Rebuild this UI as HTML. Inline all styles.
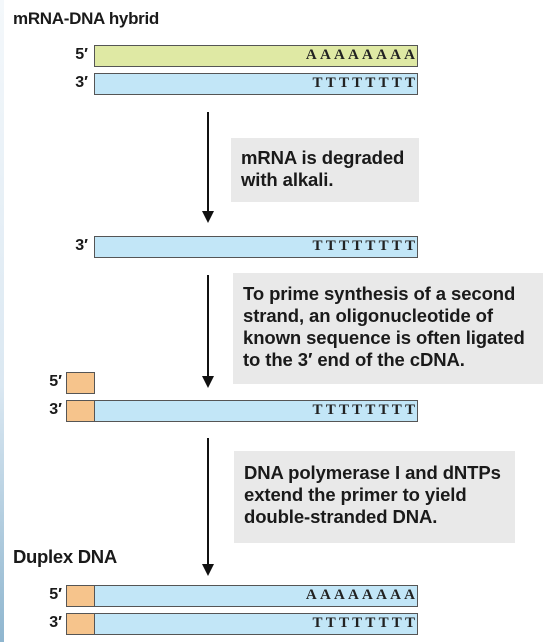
<!DOCTYPE html>
<html><head><meta charset="utf-8"><style>
body{margin:0;width:548px;height:642px;background:#fff;position:relative;overflow:hidden;font-family:"Liberation Sans",sans-serif;}
.a{position:absolute}
.t{font-weight:bold;font-size:17px;color:#1a1a1a;letter-spacing:-0.3px}
.lbl{position:absolute;font-weight:bold;font-size:16px;width:30px;text-align:right;color:#1a1a1a}
.bar{position:absolute;left:94px;width:322px;height:20px;border:1px solid #555;background:#c2e6f7;box-sizing:content-box}
.y{background:#dfe9a4}
.seq{position:absolute;right:2px;top:1px;font-family:"Liberation Serif",serif;font-weight:bold;font-size:15px;letter-spacing:3.2px;margin-right:-3.2px;color:#222}
.or{position:absolute;width:27px;height:20px;border:1px solid #555;background:#f6c48c}
.box{position:absolute;background:#e9e9e9;font-weight:bold;font-size:18.5px;line-height:22px;color:#1a1a1a;padding:9px 10px;box-sizing:border-box;letter-spacing:-0.1px;white-space:nowrap}
.arr{position:absolute;left:207px;width:2px;background:#111}
.arr:after{content:"";position:absolute;left:-5px;bottom:-2px;border-left:6px solid transparent;border-right:6px solid transparent;border-top:12px solid #111}
</style></head><body>
<div class="a" style="left:0;top:0;width:4px;height:642px;background:linear-gradient(#f4f8fb,#dbe8f2 60%,#8fb6cf)"></div>
<div class="a t" style="left:13px;top:9px">mRNA-DNA hybrid</div>
<div class="lbl" style="left:58px;top:46px">5′</div>
<div class="bar y" style="top:45px"><span class="seq">AAAAAAAA</span></div>
<div class="lbl" style="left:58px;top:74px">3′</div>
<div class="bar" style="top:73px"><span class="seq">TTTTTTTT</span></div>
<div class="arr" style="top:112px;height:109px"></div>
<div class="box" style="left:231px;top:138px;width:188px;height:64px">mRNA is degraded<br>with alkali.</div>
<div class="lbl" style="left:58px;top:237px">3′</div>
<div class="bar" style="top:236px"><span class="seq">TTTTTTTT</span></div>
<div class="arr" style="top:275px;height:111px"></div>
<div class="box" style="left:233px;top:273px;width:310px;height:111px;padding-top:10px">To prime synthesis of a second<br>strand, an oligonucleotide of<br>known sequence is often ligated<br>to the 3′ end of the cDNA.</div>
<div class="lbl" style="left:32px;top:373px">5′</div>
<div class="or" style="left:66px;top:372px"></div>
<div class="lbl" style="left:32px;top:401px">3′</div>
<div class="bar" style="top:400px"><span class="seq">TTTTTTTT</span></div>
<div class="or" style="left:66px;top:400px"></div>
<div class="arr" style="top:438px;height:136px"></div>
<div class="box" style="left:234px;top:451px;width:281px;height:92px;padding-top:11px">DNA polymerase I and dNTPs<br>extend the primer to yield<br>double-stranded DNA.</div>
<div class="a t" style="left:13px;top:546px;font-size:18.5px">Duplex DNA</div>
<div class="lbl" style="left:32px;top:586px">5′</div>
<div class="bar" style="top:585px"><span class="seq">AAAAAAAA</span></div>
<div class="or" style="left:66px;top:585px"></div>
<div class="lbl" style="left:32px;top:614px">3′</div>
<div class="bar" style="top:613px"><span class="seq">TTTTTTTT</span></div>
<div class="or" style="left:66px;top:613px"></div>
</body></html>
